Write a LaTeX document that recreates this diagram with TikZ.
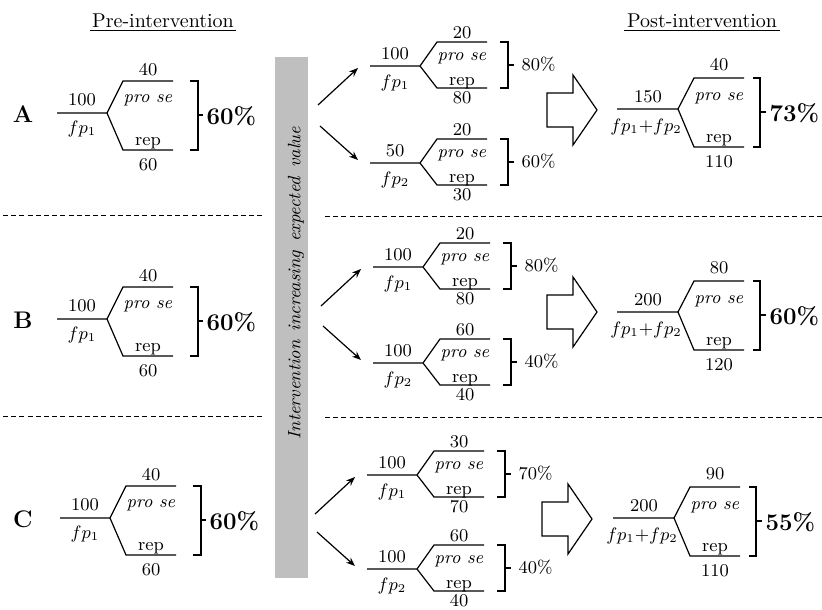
\documentclass[tikz,border=0pt]{standalone}
\usepackage{amsmath}
\usepackage{tikz}
\usetikzlibrary{arrows.meta}

\tikzset{
  lbl/.style={font=\small, inner sep=0pt, text height=1.6ex, text depth=0.3ex},
  pct/.style={font=\small, inner sep=0pt, anchor=west},
  bigpct/.style={font=\large\bfseries, inner sep=0pt, anchor=west},
  rowlbl/.style={font=\large\bfseries, inner sep=0pt},
  head/.style={font=\normalsize, inner sep=1pt, anchor=base},
  sep/.style={line width=0.5pt, dash pattern=on 2.5pt off 1.6pt},
  tip/.style={-{Stealth[length=4.5pt,width=3.5pt]}, line width=0.6pt},
  fatarrow/.style={line width=0.6pt, fill=white, line join=miter},
}

\begin{document}
\begin{tikzpicture}[x=0.5pt,y=-0.5pt,line width=0.6pt]
\useasboundingbox (0,0) rectangle (822,609);

% headings
\node[head] (pre) at (163,28) {Pre-intervention};
\draw [line width=0.5pt] (pre.south west) -- (pre.south east);
\node[head] (post) at (702,28) {Post-intervention};
\draw [line width=0.5pt] (post.south west) -- (post.south east);

% grey bar
\fill [black!25] (275,57) rectangle (308,578);
\node[rotate=90, font=\small\itshape, inner sep=0pt] (bar) at (296,283)
  {Intervention\hspace{0.5em}increasing\hspace{0.5em}expected\hspace{0.5em}value};

% row separators
\draw [sep] (3,215) -- (262,215);
\draw [sep] (325,216) -- (822,216);
\draw [sep] (3,416) -- (262,416);
\draw [sep] (325,417) -- (822,417);

% pre-intervention trees
\foreach \r/\fx/\fy/\a/\up/\dn/\p in {A/107/113/100/40/60/60, B/107/319/100/40/60/60, C/110/518/100/40/60/60} {
  \node[rowlbl] (row\r) at (23,\fy+1) {\r};
  \coordinate (pf\r) at (\fx,\fy);
  \draw (\fx-50,\fy) -- (pf\r) -- (\fx+16,\fy-32) -- (\fx+66,\fy-32);
  \draw (pf\r) -- (\fx+16,\fy+37) -- (\fx+66,\fy+37);
  \node[lbl] (pa\r) at (\fx-25,\fy-13) {\a};
  \node[lbl] (pb\r) at (\fx-25,\fy+15) {$fp_1$};
  \node[lbl] (pu\r) at (\fx+41,\fy-43) {\up};
  \node[lbl] (ps\r) at (\fx+41,\fy-16) {\textit{pro se}};
  \node[lbl] (pr\r) at (\fx+41,\fy+27) {rep};
  \node[lbl] (pd\r) at (\fx+41,\fy+52) {\dn};
  \draw (\fx+83,\fy-32) -- (\fx+91,\fy-32) -- (\fx+91,\fy+37) -- (\fx+83,\fy+37);
  \draw (\fx+91,\fy+2) -- (\fx+96,\fy+2);
  \node[bigpct] (pp\r) at (\fx+99,\fy+3) {\p\%};
}

% branching arrows
\foreach \r/\fx/\ya/\yb in {A/420/66/163, B/423/267/363, C/417/475/569} {
  \draw [tip] (\fx-102,\ya+39) -- (\fx-62,\ya+2);
  \draw [tip] (\fx-100,\yb-37) -- (\fx-62,\yb-3);
}

% intervention trees
\foreach \r/\n/\fx/\fy/\a/\up/\dn/\p in {A/1/420/66/100/20/80/80, A/2/420/163/50/20/30/60,
    B/1/423/267/100/20/80/80, B/2/423/363/100/60/40/40,
    C/1/417/475/100/30/70/70, C/2/417/569/100/60/40/40} {
  \coordinate (mf\r\n) at (\fx,\fy);
  \draw (\fx-50,\fy) -- (mf\r\n) -- (\fx+17,\fy-24) -- (\fx+67,\fy-24);
  \draw (mf\r\n) -- (\fx+17,\fy+22) -- (\fx+67,\fy+22);
  \node[lbl] (ma\r\n) at (\fx-25,\fy-12) {\a};
  \node[lbl] (mb\r\n) at (\fx-25,\fy+16) {$fp_\n$};
  \node[lbl] (mu\r\n) at (\fx+42,\fy-33) {\up};
  \node[lbl] (ms\r\n) at (\fx+42,\fy-11) {\textit{pro se}};
  \node[lbl] (mr\r\n) at (\fx+42,\fy+14) {rep};
  \node[lbl] (md\r\n) at (\fx+42,\fy+32) {\dn};
  \draw (\fx+80,\fy-24) -- (\fx+88,\fy-24) -- (\fx+88,\fy+22) -- (\fx+80,\fy+22);
  \draw (\fx+88,\fy-1) -- (\fx+94,\fy-1);
  \node[pct] (mp\r\n) at (\fx+101,\fy-2) {\p\%};
}

% block arrows
\foreach \r/\bx/\by in {A/547/110, B/547/312, C/542/519} {
  \draw [fatarrow] (\bx,\by-17) -- (\bx+26,\by-17) -- (\bx+26,\by-35) -- (\bx+50,\by)
    -- (\bx+26,\by+35) -- (\bx+26,\by+17) -- (\bx,\by+17) -- cycle;
}

% post-intervention trees
\foreach \r/\fx/\fy/\a/\up/\dn/\p in {A/678/109/150/40/110/73, B/678/312/200/80/120/60, C/674/518/200/90/110/55} {
  \coordinate (qf\r) at (\fx,\fy);
  \draw (\fx-61,\fy) -- (qf\r) -- (\fx+16,\fy-31) -- (\fx+66,\fy-31);
  \draw (qf\r) -- (\fx+16,\fy+38) -- (\fx+66,\fy+38);
  \node[lbl] (qa\r) at (\fx-30,\fy-12) {\a};
  \node[lbl] (qb\r) at (\fx-32,\fy+17) {$fp_1{+}fp_2$};
  \node[lbl] (qu\r) at (\fx+41,\fy-44) {\up};
  \node[lbl] (qs\r) at (\fx+41,\fy-14) {\textit{pro se}};
  \node[lbl] (qr\r) at (\fx+41,\fy+28) {rep};
  \node[lbl] (qd\r) at (\fx+41,\fy+53) {\dn};
  \draw (\fx+75,\fy-31) -- (\fx+82,\fy-31) -- (\fx+82,\fy+38) -- (\fx+75,\fy+38);
  \draw (\fx+82,\fy+3) -- (\fx+88,\fy+3);
  \node[bigpct] (qp\r) at (\fx+91,\fy+4) {\p\%};
}
\end{tikzpicture}
\end{document}
